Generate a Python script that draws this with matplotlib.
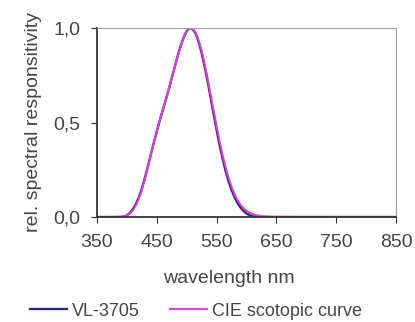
import numpy as np
import matplotlib.pyplot as plt
from matplotlib.ticker import FuncFormatter
plt.rcParams.update({'font.family': 'Liberation Sans', 'font.size': 14})

#%% Data
#-----------------------------------------------------------------------------------------------------------------------
wl = [350, 370, 380, 390, 395, 400, 405, 410, 415, 420, 425, 430, 435, 440, 445, 450, 455, 460, 465, 470,
      475, 480, 485, 490, 495, 500, 505, 510, 515, 520, 525, 530, 535, 540, 545, 550, 555, 560, 565, 570,
      575, 580, 585, 590, 595, 600, 605, 610, 615, 620, 625, 630, 640, 650, 700, 750, 800, 850]
cie = [0.0, 0.0, 0.0006, 0.0022, 0.0045, 0.0093, 0.0185, 0.0348, 0.0604, 0.0966, 0.1436, 0.1998, 0.2625,
       0.3281, 0.3931, 0.455, 0.513, 0.567, 0.620, 0.676, 0.734, 0.793, 0.851, 0.904, 0.949, 0.982, 0.998,
       0.997, 0.975, 0.935, 0.880, 0.811, 0.733, 0.650, 0.564, 0.481, 0.402, 0.3288, 0.2639, 0.2076, 0.1602,
       0.1212, 0.0899, 0.0655, 0.0469, 0.0332, 0.0231, 0.0159, 0.0109, 0.0074, 0.0050, 0.0033, 0.0015,
       0.0007, 0.0, 0.0, 0.0, 0.0]
vl = [0.0, 0.0, 0.0, 0.0, 0.001, 0.008, 0.022, 0.042, 0.068, 0.104, 0.150, 0.205, 0.266,
      0.330, 0.393, 0.453, 0.511, 0.565, 0.619, 0.675, 0.734, 0.794, 0.853, 0.906, 0.951, 0.984, 0.999,
      0.995, 0.970, 0.926, 0.868, 0.797, 0.717, 0.632, 0.545, 0.461, 0.381, 0.309, 0.245, 0.189, 0.143,
      0.105, 0.074, 0.050, 0.032, 0.019, 0.010, 0.004, 0.001, 0.0, 0.0, 0.0, 0.0,
      0.0, 0.0, 0.0, 0.0, 0.0]

#%% Plotting
fig = plt.figure(figsize=(4.15, 3.22), dpi=100)
ax = fig.add_axes([97/415, 1 - 217/322, 299/415, 189/322])

ax.plot(wl, vl, color='#2e2a78', lw=1.7, label='VL-3705')
ax.plot(wl, cie, color='#e03fe0', lw=1.4, label='CIE scotopic curve')

ax.set_xlim(350, 850)
ax.set_ylim(0, 1)
ax.set_xticks([350, 450, 550, 650, 750, 850])
ax.set_yticks([0, 0.5, 1.0])
ax.yaxis.set_major_formatter(FuncFormatter(lambda v, p: '{:.1f}'.format(v).replace('.', ',')))

for s in ['top', 'right']:
    ax.spines[s].set_color('#a0a0a0')
for s in ['left', 'bottom']:
    ax.spines[s].set_color('#333333')
    ax.spines[s].set_linewidth(1.3)
ax.tick_params(direction='out', length=4, color='#333333', labelcolor='#454545', pad=8)

ax.set_xlabel('wavelength nm', color='#454545', labelpad=14, x=(229 - 97)/299)
ax.set_ylabel('rel. spectral responsitivity', color='#454545', labelpad=8)
fig.legend(loc='center left', bbox_to_anchor=(30/415, 1 - 311/322), ncol=2, frameon=False, fontsize=13,
           borderpad=0, borderaxespad=0, handlelength=2.05, columnspacing=1.65, handletextpad=0.28,
           labelcolor='#454545')

fig.savefig('out.png')
